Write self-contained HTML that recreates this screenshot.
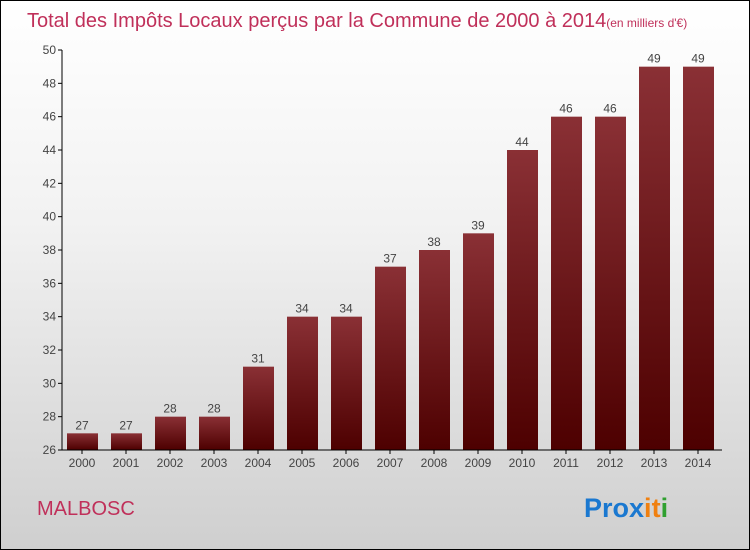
<!DOCTYPE html>
<html><head><meta charset="utf-8"><style>
body{margin:0}
#wrap{position:relative;width:748px;height:548px;border:1px solid #000;background:linear-gradient(#fff,#f2f2f2 40%,#cfcfcf);font-family:"Liberation Sans",sans-serif;overflow:hidden}
</style></head><body>
<div id="wrap">
<svg id="c" width="748" height="548">
<defs><linearGradient id="g" x1="0" y1="0" x2="0" y2="1"><stop offset="0" stop-color="#8a3035"/><stop offset="1" stop-color="#4d0000"/></linearGradient></defs>
<text x="26" y="26" font-size="20" fill="#c0305a">Total des Impôts Locaux perçus par la Commune de 2000 à 2014<tspan font-size="12">(en milliers d'€)</tspan></text>
<text x="36" y="514" font-size="20" fill="#c0305a">MALBOSC</text>
<text x="583" y="516" font-size="27" font-weight="bold"><tspan fill="#1a78d0">Pro</tspan><tspan fill="#1a78d0">x</tspan><tspan fill="#f08010">i</tspan><tspan fill="#f08010">t</tspan><tspan fill="#30a030">i</tspan></text>
<g id="plot"></g>
</svg></div>
<script>
const years=["2000","2001","2002","2003","2004","2005","2006","2007","2008","2009","2010","2011","2012","2013","2014"];
const values=[27,27,28,28,31,34,34,37,38,39,44,46,46,49,49];
const yTicks=[26,28,30,32,34,36,38,40,42,44,46,48,50];
const ns="http://www.w3.org/2000/svg";
const g=document.getElementById('plot');
const y=v=>449-(v-26)*(400/24);
const x=i=>81+i*44;
function mk(t,a){const e=document.createElementNS(ns,t);for(const k in a)e.setAttribute(k,a[k]);g.appendChild(e);return e;}
yTicks.forEach(t=>{
const l=mk('line',{x1:57,x2:61,y1:y(t),y2:y(t),stroke:'#000'});


const tx=mk('text',{x:55,y:y(t)+4,'text-anchor':'end','font-size':12,fill:'#444'});tx.textContent=t;


});
values.forEach((v,i)=>{
const r=mk('rect',{x:x(i)-15,y:y(v),width:31,height:y(26)-y(v),fill:'url(#g)'});


const lb=mk('text',{x:x(i),y:y(v)-4,'text-anchor':'middle','font-size':12,fill:'#444'});lb.textContent=v;


const xl=mk('text',{x:x(i),y:466,'text-anchor':'middle','font-size':12,fill:'#444'});xl.textContent=years[i];


const tk=mk('line',{x1:x(i),x2:x(i),y1:449,y2:453,stroke:'#000'});


});
const ya=mk('line',{x1:61,x2:61,y1:49,y2:449,stroke:'#000'});


const xa=mk('line',{x1:61,x2:721,y1:449,y2:449,stroke:'#000'});


</script>
</body></html>
